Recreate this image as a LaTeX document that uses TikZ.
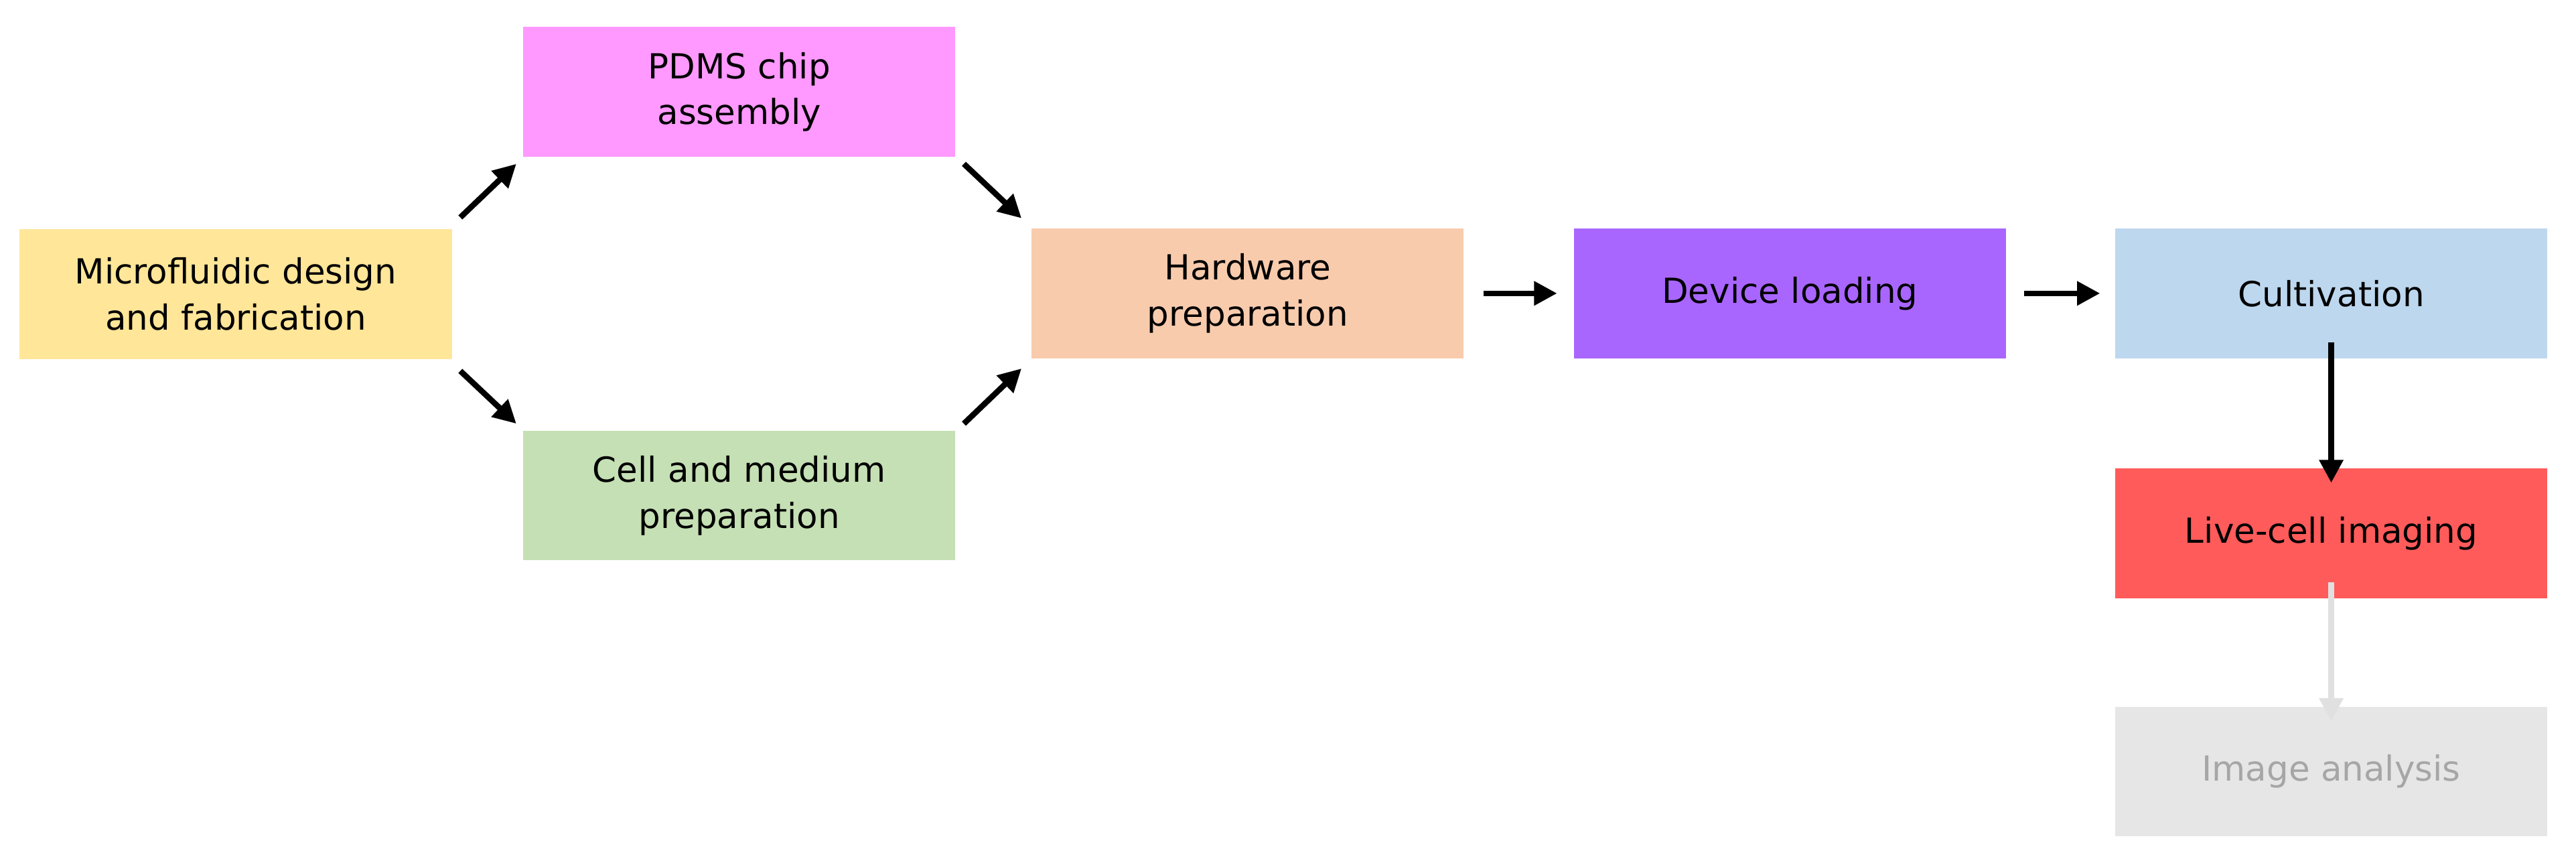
\documentclass[tikz,border=0pt]{standalone}
\usepackage{fontspec}
\setmainfont{DejaVu Sans}
\usetikzlibrary{arrows.meta}
\definecolor{cy}{HTML}{FFE699}
\definecolor{cp}{HTML}{FF99FF}
\definecolor{cg}{HTML}{C5E0B4}
\definecolor{ch}{HTML}{F8CBAD}
\definecolor{cd}{HTML}{A966FF}
\definecolor{cc}{HTML}{BDD7EE}
\definecolor{cl}{HTML}{FF5B5B}
\definecolor{ci}{HTML}{E6E6E6}
\begin{document}
\begin{tikzpicture}[x=1pt,y=-1pt,
 box/.style={minimum width=263pt,minimum height=79pt,inner sep=0pt,align=center,font=\fontsize{21}{28}\selectfont},
 arr/.style={-{Triangle[length=14pt,width=14pt]},line width=3.5pt}]
\useasboundingbox (0,0) rectangle (1568,525);
\node[box,fill=cy] (m) at (143.5,179) {Microfluidic design\\and fabrication};
\node[box,fill=cp] (p) at (450,56) {PDMS chip\\assembly};
\node[box,fill=cg] (c) at (450,301.5) {Cell and medium\\preparation};
\node[box,fill=ch] (h) at (759.5,178.5) {Hardware\\preparation};
\node[box,fill=cd] (d) at (1089.5,178.5) {Device loading};
\node[box,fill=cc] (cu) at (1419,178.5) {Cultivation};
\node[box,fill=cl] (l) at (1419,324.5) {Live-cell imaging};
\node[box,fill=ci,text=black!35] (i) at (1419,469.5) {Image analysis};
\draw[arr] ([shift={(5,-7)}]m.north east) -- ([shift={(-4,4)}]p.south west);
\draw[arr] ([shift={(5,7)}]m.south east) -- ([shift={(-4,-4)}]c.north west);
\draw[arr] ([shift={(5,4)}]p.south east) -- ([shift={(-6,-6)}]h.north west);
\draw[arr] ([shift={(5,-4)}]c.north east) -- ([shift={(-6,6)}]h.south west);
\draw[arr] ([xshift=12pt]h.east) -- ([xshift=-10pt]d.west);
\draw[arr] ([xshift=11pt]d.east) -- ([xshift=-9pt]cu.west);
\draw[arr] ([yshift=10pt]cu.south) -- ([yshift=-9pt]l.north);
\draw[arr,draw=black!12,-{Triangle[length=14pt,width=14pt,fill=black!12]}] ([yshift=10pt]l.south) -- ([yshift=-9pt]i.north);
\end{tikzpicture}
\end{document}
